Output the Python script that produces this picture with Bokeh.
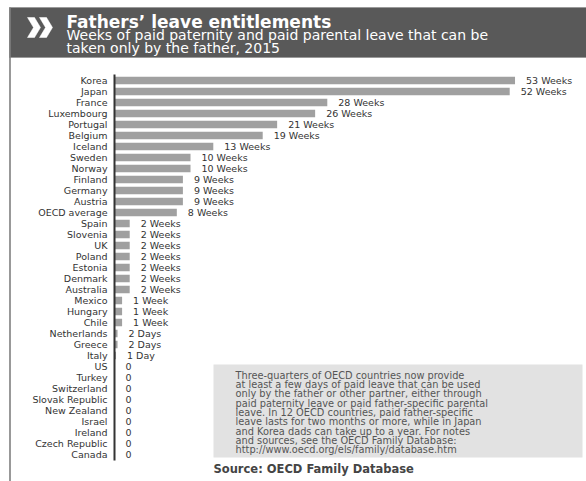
from bokeh.plotting import figure
from bokeh.models import Range1d, ColumnDataSource
from bokeh.embed import file_html
from bokeh.resources import INLINE
from bokeh.core.properties import value

# ---------------- data ----------------
countries = ["Korea", "Japan", "France", "Luxembourg", "Portugal", "Belgium",
             "Iceland", "Sweden", "Norway", "Finland", "Germany", "Austria",
             "OECD average", "Spain", "Slovenia", "UK", "Poland", "Estonia",
             "Denmark", "Australia", "Mexico", "Hungary", "Chile", "Netherlands",
             "Greece", "Italy", "US", "Turkey", "Switzerland", "Slovak Republic",
             "New Zealand", "Israel", "Ireland", "Czech Republic", "Canada"]
weeks = [52.7, 52.0, 28.0, 26.4, 21.4, 19.5,
         13.0, 10.0, 10.0, 9.0, 9.0, 9.0,
         8.2, 2.0, 2.0, 2.0, 2.0, 2.0,
         2.0, 2.0, 1.0, 1.0, 1.0, 0.4,
         0.4, 0.2, 0, 0, 0, 0,
         0, 0, 0, 0, 0]
value_labels = ["53 Weeks", "52 Weeks", "28 Weeks", "26 Weeks", "21 Weeks", "19 Weeks",
                "13 Weeks", "10 Weeks", "10 Weeks", "9 Weeks", "9 Weeks", "9 Weeks",
                "8 Weeks", "2 Weeks", "2 Weeks", "2 Weeks", "2 Weeks", "2 Weeks",
                "2 Weeks", "2 Weeks", "1 Week", "1 Week", "1 Week", "2 Days",
                "2 Days", "1 Day", "0", "0", "0", "0",
                "0", "0", "0", "0", "0"]

title_text = "Fathers\u2019 leave entitlements"
subtitle_lines = ["Weeks of paid paternity and paid parental leave that can be",
                  "taken only by the father, 2015"]
note_text = ("Three-quarters of OECD countries now provide\n"
             "at least a few days of paid leave that can be used\n"
             "only by the father or other partner, either through\n"
             "paid paternity leave or paid father-specific parental\n"
             "leave. In 12 OECD countries, paid father-specific\n"
             "leave lasts for two months or more, while in Japan\n"
             "and Korea dads can take up to a year. For notes\n"
             "and sources, see the OECD Family Database:\n"
             "http://www.oecd.org/els/family/database.htm")
source_text = "Source: OECD Family Database"

# ---------------- geometry helpers (page pixels -> data units) ----------------
W, H = 586, 481
OFF = 0               # page offset of the canvas
PX_PER_WEEK = 7.6
ORIGIN_X = 114.0      # page x of the zero line
ROW0_Y = 80.0         # page y of the first row centre
ROW_PITCH = 11.0


def X(px):
    return (px - ORIGIN_X) / PX_PER_WEEK


def Y(py):
    return (py - ROW0_Y) / ROW_PITCH


FONT = value("DejaVu Sans")

src = ColumnDataSource(dict(country=countries, weeks=weeks, label=value_labels,
                            row=list(range(len(countries)))))

p = figure(width=W, height=H,
           x_range=Range1d(X(OFF), X(OFF + W)),
           y_range=Range1d(Y(OFF + H), Y(OFF)),
           output_backend="svg", toolbar_location=None,
           x_axis_location=None, y_axis_location=None,
           min_border=0)
p.grid.visible = False
p.outline_line_color = None
p.background_fill_color = "white"
p.border_fill_color = "white"

# header band
p.quad(left=X(9), right=X(590), top=Y(7), bottom=Y(57),
       fill_color="#595959", line_color="#9a9a9a", line_width=1)
# left frame line
p.segment(x0=X(9.5), y0=Y(7), x1=X(9.5), y1=Y(490), line_color="#7f7f7f", line_width=1.6)

# chevrons
for dx in (0, 12):
    xs = [X(27 + dx), X(34 + dx), X(40 + dx), X(34 + dx), X(27 + dx), X(33 + dx)]
    ys = [Y(17), Y(17), Y(27), Y(37), Y(37), Y(27)]
    p.patch(xs, ys, fill_color="white", line_color="white", line_width=0.5)

p.text(x=[X(66)], y=[Y(21)], text=[title_text], text_font=FONT,
       text_font_style="bold", text_font_size="17px", text_color="white",
       text_baseline="middle", text_align="left")
p.text(x=[X(66)], y=[Y(34.5)], text=[subtitle_lines[0]], text_font=FONT,
       text_font_size="14px", text_color="white",
       text_baseline="middle", text_align="left")
p.text(x=[X(66)], y=[Y(47)], text=[subtitle_lines[1]], text_font=FONT,
       text_font_size="14px", text_color="white",
       text_baseline="middle", text_align="left")

# bars
p.hbar(y="row", left=0, right="weeks", height=0.68, source=src,
       fill_color="#a0a0a0", line_color=None)
# zero line
p.segment(x0=0, y0=Y(74), x1=0, y1=Y(460), line_color="#333333", line_width=2)

# country names
p.text(x=X(107), y="row", text="country", source=src, text_font=FONT,
       text_font_size="9.5px", text_color="#333333",
       text_align="right", text_baseline="middle")
# value labels
p.text(x="weeks", y="row", text="label", source=src, x_offset=11, text_font=FONT,
       text_font_size="9.5px", text_color="#333333",
       text_align="left", text_baseline="middle")

# note box
p.quad(left=X(213), right=X(582), top=Y(364), bottom=Y(457),
       fill_color="#e2e2e2", line_color=None)
p.text(x=[X(235)], y=[Y(369)], text=[note_text], text_font=FONT,
       text_font_size="9.8px", text_color="#555555", text_line_height=0.85,
       text_align="left", text_baseline="top")
p.text(x=[X(213)], y=[Y(468)], text=[source_text], text_font=FONT,
       text_font_style="bold", text_font_size="11.5px", text_color="#444444",
       text_align="left", text_baseline="middle")

open("out.html", "w").write(file_html(p, INLINE))
